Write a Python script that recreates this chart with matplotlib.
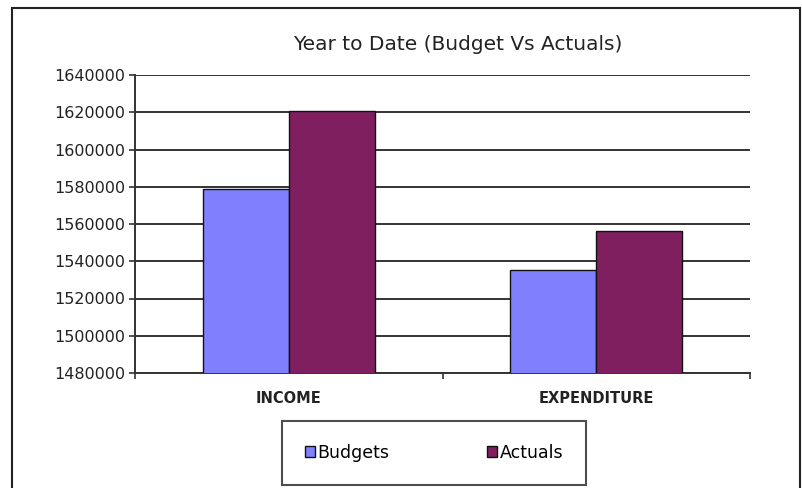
import numpy as np
import matplotlib.pyplot as plt
from matplotlib.patches import Rectangle

plt.rcParams['font.family'] = ['DejaVu Sans']

categories = ['INCOME', 'EXPENDITURE']
budgets = [1579000, 1535500]
actuals = [1620500, 1556500]
y_ticks = [1480000, 1500000, 1520000, 1540000, 1560000, 1580000, 1600000, 1620000, 1640000]

fig = plt.figure(figsize=(8.02, 4.88), dpi=100)
ax = fig.add_axes([135/802, 1 - 373/488, 615/802, 298/488])

# outer chart frame
fig.patches.append(Rectangle((12/802, -0.05), 788/802, 1 - 8/488 + 0.05,
                             transform=fig.transFigure, fill=False,
                             edgecolor='#222222', linewidth=1.5))

x = np.arange(len(categories))
w = 0.28
ax.bar(x - w/2, budgets, w, color='#8080ff', edgecolor='#111111', linewidth=1, label='Budgets', zorder=3)
ax.bar(x + w/2, actuals, w, color='#7f1f5f', edgecolor='#111111', linewidth=1, label='Actuals', zorder=3)

ax.set_xlim(-0.5, 1.5)
ax.set_ylim(1480000, 1640000)
ax.set_yticks(y_ticks)
ax.set_yticklabels([str(v) for v in y_ticks], fontsize=11.5, color='#222222')
ax.yaxis.grid(True, color='#333333', linewidth=1.4, zorder=0)

ax.set_xticks([-0.5, 0.5, 1.5])
ax.set_xticklabels(['', '', ''])
ax.set_xticks(x, categories, minor=True)
ax.tick_params(axis='x', which='minor', length=0, pad=13, labelsize=10.5, labelcolor='#222222')
for t in ax.get_xticklabels(minor=True):
    t.set_fontweight('bold')
ax.tick_params(axis='x', which='major', length=4, width=1.2, color='#333333')
ax.tick_params(axis='y', length=4, width=1.2, color='#333333', pad=3)

for s in ['top', 'right']:
    ax.spines[s].set_visible(False)
for s in ['left', 'bottom']:
    ax.spines[s].set_linewidth(1.4)
    ax.spines[s].set_color('#333333')

fig.text(458/802, 1 - 44/488, 'Year to Date (Budget Vs Actuals)', ha='center', va='center',
         fontsize=14.5, color='#222222')

leg = fig.legend(loc='center', ncol=2, bbox_to_anchor=(434/802, 1 - 453/488),
                 fontsize=12.5, handlelength=0.6, handleheight=0.6, columnspacing=5.6,
                 handletextpad=0.15, borderpad=1.3, fancybox=False, edgecolor='#222222')
leg.get_frame().set_linewidth(1.5)

fig.savefig('out.png', dpi=100)
